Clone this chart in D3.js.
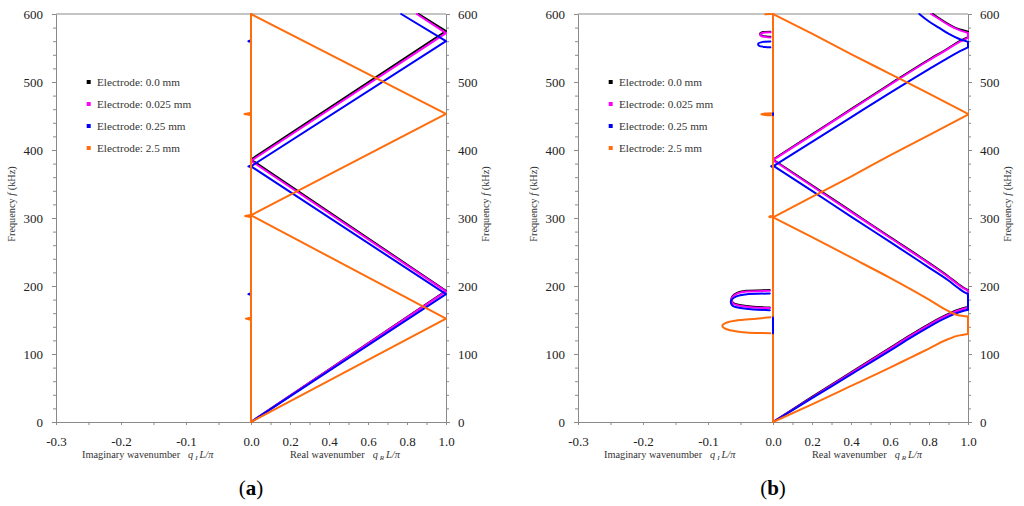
<!DOCTYPE html>
<html>
<head>
<meta charset="utf-8">
<script src="https://cdn.jsdelivr.net/npm/d3@7"></script>
<style>
  body { margin: 0; background: #fff; }
  svg { display: block; }
</style>
</head>
<body>
<div class="svg"></div>
<script>
var svgWidth = 1024;
var svgHeight = 506;

// legend / series names
var electrodes = ["Electrode: 0.0 mm", "Electrode: 0.025 mm", "Electrode: 0.25 mm", "Electrode: 2.5 mm"];
var colors = ["#000000", "#ff00ff", "#0000ff", "#ff6c0c"];

// ticks
var freqTicks = d3.range(0, 601, 20);
var freqLabels = [0, 100, 200, 300, 400, 500, 600];
var imagTicks = [-0.3, -0.25, -0.2, -0.15, -0.1, -0.05, 0];
var imagLabels = [-0.3, -0.2, -0.1];
var realTicks = [0, 0.1, 0.2, 0.3, 0.4, 0.5, 0.6, 0.7, 0.8, 0.9, 1.0];
var realLabels = [0, 0.2, 0.4, 0.6, 0.8, 1.0];

// ---- panel (a): real part [qR, f], imaginary part [qI, f] ----
var aBlackReal = [[[0, 0], [1, 193], [0, 386], [1, 575], [0.86, 600]]];
var aMagentaReal = [[[0, 0], [1, 192], [0, 384], [1, 572], [0.85, 600]]];
var aBlueReal = [[[0, 0], [1, 188], [0, 376], [1, 560], [0.77, 600]]];
var aOrangeReal = [[[0, 0], [1, 152], [0, 304], [1, 453], [0, 600]]];

var aBlueImag = [
  [[-0.001, 561], [-0.004, 560], [-0.001, 559]],
  [[-0.001, 377], [-0.004, 376], [-0.001, 375]],
  [[-0.001, 189], [-0.004, 188], [-0.001, 187]]
];
var aOrangeImag = [
  [[0, 0], [0, 600]],
  [[-0.001, 454.5], [-0.01, 453], [-0.001, 451.5]],
  [[-0.001, 304.5], [-0.009, 303], [-0.001, 301.5]],
  [[-0.001, 153.5], [-0.008, 152], [-0.001, 150.5]]
];

// ---- panel (b) ----
var bBlackReal = [
  [[0, 0], [0.2, 37], [0.4, 73], [0.6, 109], [0.7, 127], [0.8, 144], [0.85, 152], [0.9, 159], [0.95, 165], [1, 169]],
  [[1, 169], [1, 194]],
  [[1, 194], [0.98, 197], [0.95, 203], [0.9, 214], [0.8, 234], [0.6, 272], [0.4, 310], [0.2, 348], [0, 386]],
  [[0, 386], [0.2, 423], [0.4, 460], [0.6, 497], [0.8, 533], [0.9, 550], [0.95, 559], [1, 566]],
  [[1, 566], [1, 574]],
  [[1, 574], [0.95, 578], [0.9, 585], [0.85, 594], [0.82, 600]]
];
var bMagentaReal = [
  [[0, 0], [0.2, 36], [0.4, 72], [0.6, 108], [0.7, 126], [0.8, 143], [0.85, 151], [0.9, 158], [0.95, 164], [1, 168]],
  [[1, 168], [1, 193]],
  [[1, 193], [0.98, 196], [0.95, 202], [0.9, 213], [0.8, 233], [0.6, 271], [0.4, 309], [0.2, 347], [0, 385]],
  [[0, 385], [0.2, 422], [0.4, 459], [0.6, 496], [0.8, 532], [0.9, 549], [0.95, 558], [1, 565]],
  [[1, 565], [1, 572]],
  [[1, 572], [0.95, 577], [0.9, 584], [0.85, 593], [0.81, 600]]
];
var bBlueReal = [
  [[0, 0], [0.2, 35], [0.4, 70], [0.6, 105], [0.7, 123], [0.8, 140], [0.85, 148], [0.9, 155], [0.95, 161], [1, 165]],
  [[1, 165], [1, 188]],
  [[1, 188], [0.98, 191], [0.95, 197], [0.9, 208], [0.8, 227], [0.6, 265], [0.4, 302], [0.2, 340], [0, 377]],
  [[0, 376], [0.2, 412], [0.4, 448], [0.6, 484], [0.8, 519], [0.9, 536], [0.95, 544], [1, 551]],
  [[1, 551], [1, 559]],
  [[1, 559], [0.95, 564], [0.9, 571], [0.85, 580], [0.8, 589], [0.75, 600]]
];
var bOrangeReal = [
  [[0, 0], [0.2, 26], [0.4, 53], [0.6, 80], [0.7, 94], [0.8, 108], [0.9, 122], [0.95, 127], [1, 129.5]],
  [[1, 129.5], [1, 155]],
  [[1, 155], [0.95, 157], [0.9, 163], [0.8, 180], [0.6, 212], [0.4, 242], [0.2, 272], [0, 301]],
  [[0, 301], [0.2, 331], [0.4, 361], [0.6, 392], [0.8, 422], [1, 452]],
  [[1, 453], [0.8, 483], [0.6, 512], [0.4, 541], [0.2, 571], [0, 600]]
];

var bBlackImag = [
  [[-0.005, 194], [-0.041, 193], [-0.056, 189.5], [-0.064, 181], [-0.062, 176], [-0.051, 172], [-0.03, 169.5], [-0.005, 168.5]],
  [[-0.004, 574], [-0.015, 573.5], [-0.02, 571], [-0.018, 568.5], [-0.01, 567], [-0.004, 566.5]]
];
var bMagentaImag = [
  [[-0.005, 193], [-0.041, 192], [-0.056, 188.5], [-0.064, 180], [-0.062, 175], [-0.051, 171], [-0.03, 168.5], [-0.005, 167.5]],
  [[-0.004, 573], [-0.015, 572.5], [-0.02, 570], [-0.018, 567.5], [-0.01, 566], [-0.004, 565.5]]
];
var bBlueImag = [
  [[-0.005, 189], [-0.04, 188], [-0.057, 184.5], [-0.065, 177], [-0.063, 172], [-0.052, 168], [-0.03, 165.5], [-0.005, 164.5]],
  [[-0.004, 559.5], [-0.016, 559], [-0.023, 556], [-0.021, 553], [-0.012, 551.5], [-0.004, 551]],
  [[-0.001, 377], [-0.003, 376], [-0.001, 375]]
];
var bOrangeImag = [
  [[0, 0], [0, 600]],
  [[-0.004, 154], [-0.026, 152], [-0.051, 150], [-0.067, 147.5], [-0.076, 144], [-0.078, 141.5], [-0.075, 138], [-0.066, 135], [-0.05, 132.5], [-0.026, 131], [-0.004, 130.5]],
  [[-0.003, 454], [-0.012, 453.5], [-0.018, 452.5], [-0.012, 451.5], [-0.003, 451]],
  [[-0.003, 303], [-0.006, 302], [-0.003, 301]],
  [[-0.003, 600], [-0.012, 599.5]]
];
// blue segment lying on the qI = 0 axis, drawn over the orange line
var bBlueAxis = [[[0, 130.5], [0, 153.5]], [[0, 451.5], [0, 454]]];

var panelA = {
  left: 56, caption: "a", curve: d3.curveLinear,
  real: [aBlackReal, aMagentaReal, aBlueReal, aOrangeReal],
  imag: [[], [], aBlueImag, aOrangeImag],
  extra: []
};
var panelB = {
  left: 578, caption: "b", curve: d3.curveMonotoneY,
  real: [bBlackReal, bMagentaReal, bBlueReal, bOrangeReal],
  imag: [bBlackImag, bMagentaImag, bBlueImag, bOrangeImag],
  extra: bBlueAxis
};

var margin = { top: 14 };
var plotW = 390, plotH = 408, half = 195;
var axisColor = "#8a8a8a";
var serif = "'Liberation Serif', 'Times New Roman', serif";

var svg = d3.selectAll(".svg")
  .append("svg")
  .attr("width", svgWidth)
  .attr("height", svgHeight)
  .attr("font-family", serif);

var y = d3.scaleLinear().domain([0, 600]).range([plotH, 0]);
var xImag = d3.scaleLinear().domain([-0.3, 0]).range([0, half]);
var xReal = d3.scaleLinear().domain([0, 1]).range([half, plotW]);

function fmt1(d) { return d.toFixed(1); }

function styleAxis(sel) {
  sel.attr("font-family", serif).attr("font-size", 13);
  sel.selectAll("path, line").attr("stroke", axisColor);
  sel.selectAll("text").attr("fill", "#222");
}

function drawPanel(p) {
  var g = svg.append("g")
    .attr("transform", `translate(${p.left}, ${margin.top})`);

  // top border
  g.append("line")
    .attr("x1", 0).attr("x2", plotW).attr("y1", 0).attr("y2", 0)
    .attr("stroke", axisColor);

  var left = g.append("g")
    .call(d3.axisLeft(y).tickValues(freqTicks).tickSize(4).tickSizeOuter(0).tickPadding(9)
      .tickFormat(function(d) { return freqLabels.indexOf(d) >= 0 ? d : ""; }));
  left.selectAll(".tick").filter(function(d) { return d % 100 !== 0; })
    .select("line").attr("x2", -3);
  styleAxis(left);

  var right = g.append("g")
    .attr("transform", `translate(${plotW}, 0)`)
    .call(d3.axisRight(y).tickValues(freqTicks).tickSize(4).tickSizeOuter(0).tickPadding(8)
      .tickFormat(function(d) { return freqLabels.indexOf(d) >= 0 ? d : ""; }));
  right.selectAll(".tick").filter(function(d) { return d % 100 !== 0; })
    .select("line").attr("x2", 3);
  styleAxis(right);

  var bImag = g.append("g")
    .attr("transform", `translate(0, ${plotH})`)
    .call(d3.axisBottom(xImag).tickValues(imagTicks).tickSize(3).tickSizeOuter(0)
      .tickFormat(function(d) { return imagLabels.indexOf(d) >= 0 ? fmt1(d) : ""; }));
  styleAxis(bImag);
  bImag.selectAll(".tick text").attr("y", 15);

  var bReal = g.append("g")
    .attr("transform", `translate(0, ${plotH})`)
    .call(d3.axisBottom(xReal).tickValues(realTicks).tickSize(3).tickSizeOuter(0)
      .tickFormat(function(d) { return realLabels.indexOf(d) >= 0 ? fmt1(d) : ""; }));
  styleAxis(bReal);
  bReal.selectAll(".tick text").attr("y", 15);

  // axis titles
  [-41, plotW + 43].forEach(function(tx) {
    var tt = g.append("text")
      .attr("transform", `translate(${tx}, 190) rotate(-90)`)
      .attr("text-anchor", "middle")
      .attr("font-size", 10.3)
      .attr("fill", "#333");
    tt.append("tspan").text("Frequency  ");
    tt.append("tspan").attr("font-style", "italic").text("f");
    tt.append("tspan").text(" (kHz)");
  });

  var xt1 = g.append("text")
    .attr("x", 26).attr("y", plotH + 35.5)
    .attr("font-size", 10.3).attr("fill", "#333");
  xt1.append("tspan").text("Imaginary wavenumber");
  xt1.append("tspan").attr("dx", 8).attr("font-style", "italic").text("q");
  xt1.append("tspan").attr("dx", 2).attr("font-style", "italic").attr("font-size", 7).attr("dy", 2).text("I");
  xt1.append("tspan").attr("dx", 2).attr("font-style", "italic").attr("dy", -2).text("L/π");

  var xt2 = g.append("text")
    .attr("x", 234).attr("y", plotH + 35.5)
    .attr("font-size", 10.3).attr("fill", "#333");
  xt2.append("tspan").text("Real wavenumber");
  xt2.append("tspan").attr("dx", 8).attr("font-style", "italic").text("q");
  xt2.append("tspan").attr("dx", 2).attr("font-style", "italic").attr("font-size", 7).attr("dy", 2).text("R");
  xt2.append("tspan").attr("dx", 2).attr("font-style", "italic").attr("dy", -2).text("L/π");

  // caption
  var cap = g.append("text")
    .attr("x", half).attr("y", 481)
    .attr("text-anchor", "middle")
    .attr("font-size", 21).attr("fill", "#000");
  cap.append("tspan").text("(");
  cap.append("tspan").attr("font-weight", "bold").text(p.caption);
  cap.append("tspan").text(")");

  // curves
  var realLine = d3.line().curve(p.curve)
    .x(function(d) { return xReal(d[0]); })
    .y(function(d) { return y(d[1]); });
  var imagLine = d3.line().curve(p.curve)
    .x(function(d) { return xImag(d[0]); })
    .y(function(d) { return y(d[1]); });

  var curves = g.append("g").attr("fill", "none").attr("stroke-linejoin", "round").attr("stroke-linecap", "round");
  p.real.forEach(function(segs, i) {
    curves.selectAll(null).data(p.imag[i]).enter().append("path")
      .attr("d", imagLine).attr("stroke", colors[i]).attr("stroke-width", 2);
    curves.selectAll(null).data(segs).enter().append("path")
      .attr("d", realLine).attr("stroke", colors[i]).attr("stroke-width", 2);
  });
  curves.selectAll(null).data(p.extra).enter().append("path")
    .attr("d", imagLine).attr("stroke", colors[2]).attr("stroke-width", 2);

  // legend
  var leg = g.append("g").attr("transform", "translate(30, 68)");
  var items = leg.selectAll("g").data(electrodes).enter().append("g")
    .attr("transform", function(d, i) { return `translate(0, ${i * 22})`; });
  items.append("rect")
    .attr("x", 0.7).attr("y", -2).attr("width", 4).attr("height", 4)
    .attr("fill", function(d, i) { return colors[i]; });
  items.append("text")
    .attr("x", 11).attr("y", 0).attr("dy", "0.34em")
    .attr("font-size", 11.2).attr("fill", "#333")
    .text(function(d) { return d; });
}

drawPanel(panelA);
drawPanel(panelB);
</script>
</body>
</html>
